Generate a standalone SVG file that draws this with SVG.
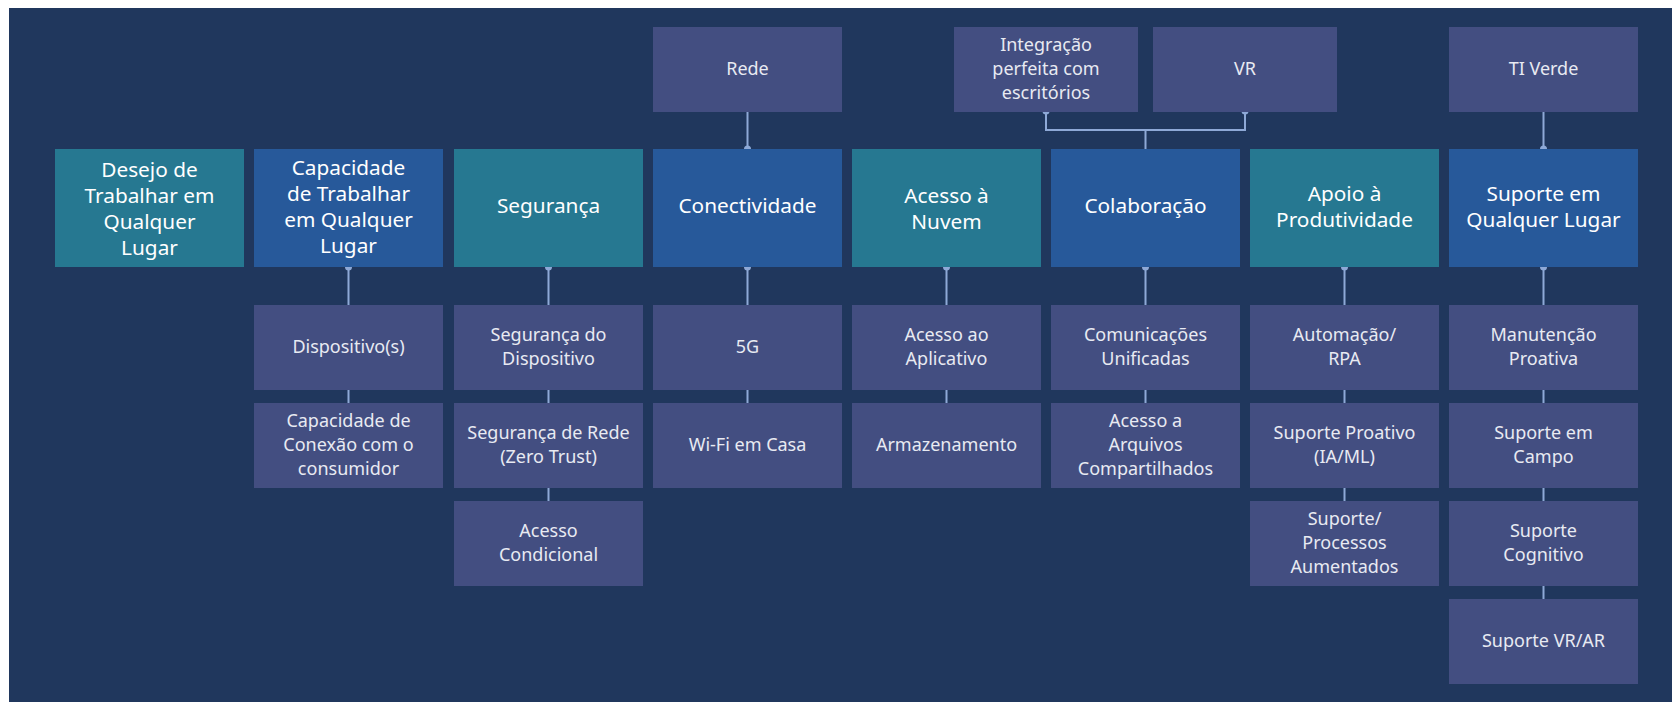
<svg xmlns="http://www.w3.org/2000/svg" width="1672" height="702" viewBox="0 0 1672 702">
<style>
.bg{fill:#20375D}
.teal{fill:#267891}
.blue{fill:#27599A}
.sub{fill:#434E81}
.mt{font-family:"Noto Sans","Liberation Sans",sans-serif;font-size:20.8px;fill:#FFFFFF;text-anchor:middle}
.st{font-family:"Noto Sans","Liberation Sans",sans-serif;font-size:18px;fill:#E8EAF2;text-anchor:middle}
.ln{stroke:#8EA9D7;stroke-width:2;fill:none}
.dot{fill:#8EA9D7}
</style>
<rect width="1672" height="702" fill="#FFFFFF"/>
<rect class="bg" x="9" y="8" width="1663" height="694"/>

<g id="connectors">
<path class="ln" d="M747.5,112V149"/>
<path class="ln" d="M1046,111V130H1245V111M1145.5,130V149"/>
<path class="ln" d="M1543.5,112V149"/>
<path class="ln" d="M348.5,267V305M348.5,390V403"/>
<path class="ln" d="M548.5,267V305M548.5,390V403M548.5,488V501"/>
<path class="ln" d="M747.5,267V305M747.5,390V403"/>
<path class="ln" d="M946.5,267V305M946.5,390V403"/>
<path class="ln" d="M1145.5,267V305M1145.5,390V403"/>
<path class="ln" d="M1344.5,267V305M1344.5,390V403M1344.5,488V501"/>
<path class="ln" d="M1543.5,267V305M1543.5,390V403M1543.5,488V501M1543.5,586V599"/>
<circle class="dot" cx="747.5" cy="149" r="3.5"/>
<circle class="dot" cx="1046" cy="111" r="3.5"/>
<circle class="dot" cx="1245" cy="111" r="3.5"/>
<circle class="dot" cx="1543.5" cy="149" r="3.5"/>
<circle class="dot" cx="348.5" cy="267" r="3.5"/>
<circle class="dot" cx="548.5" cy="267" r="3.5"/>
<circle class="dot" cx="747.5" cy="267" r="3.5"/>
<circle class="dot" cx="946.5" cy="267" r="3.5"/>
<circle class="dot" cx="1145.5" cy="267" r="3.5"/>
<circle class="dot" cx="1344.5" cy="267" r="3.5"/>
<circle class="dot" cx="1543.5" cy="267" r="3.5"/>
</g>

<!-- top row -->
<g id="rede"><rect class="sub" x="653" y="27" width="189" height="85"/><text class="st" x="747.5" y="75">Rede</text></g>
<g id="integracao"><rect class="sub" x="954" y="27" width="184" height="85"/><text class="st" x="1046"><tspan x="1046" y="51">Integração</tspan><tspan x="1046" y="75">perfeita com</tspan><tspan x="1046" y="99">escritórios</tspan></text></g>
<g id="vr"><rect class="sub" x="1153" y="27" width="184" height="85"/><text class="st" x="1245" y="75">VR</text></g>
<g id="ti-verde"><rect class="sub" x="1449" y="27" width="189" height="85"/><text class="st" x="1543.5" y="75">TI Verde</text></g>

<!-- main row -->
<g id="desejo"><rect class="teal" x="55" y="149" width="189" height="118"/><text class="mt"><tspan x="149.5" y="177">Desejo de</tspan><tspan x="149.5" y="203">Trabalhar em</tspan><tspan x="149.5" y="229">Qualquer</tspan><tspan x="149.5" y="255">Lugar</tspan></text></g>
<g id="capacidade"><rect class="blue" x="254" y="149" width="189" height="118"/><text class="mt"><tspan x="348.5" y="175">Capacidade</tspan><tspan x="348.5" y="201">de Trabalhar</tspan><tspan x="348.5" y="227">em Qualquer</tspan><tspan x="348.5" y="253">Lugar</tspan></text></g>
<g id="seguranca"><rect class="teal" x="454" y="149" width="189" height="118"/><text class="mt" x="548.5" y="213">Segurança</text></g>
<g id="conectividade"><rect class="blue" x="653" y="149" width="189" height="118"/><text class="mt" x="747.5" y="213">Conectividade</text></g>
<g id="nuvem"><rect class="teal" x="852" y="149" width="189" height="118"/><text class="mt"><tspan x="946.5" y="203">Acesso à</tspan><tspan x="946.5" y="229">Nuvem</tspan></text></g>
<g id="colaboracao"><rect class="blue" x="1051" y="149" width="189" height="118"/><text class="mt" x="1145.5" y="213">Colaboração</text></g>
<g id="produtividade"><rect class="teal" x="1250" y="149" width="189" height="118"/><text class="mt"><tspan x="1344.5" y="201">Apoio à</tspan><tspan x="1344.5" y="227">Produtividade</tspan></text></g>
<g id="suporte"><rect class="blue" x="1449" y="149" width="189" height="118"/><text class="mt"><tspan x="1543.5" y="201">Suporte em</tspan><tspan x="1543.5" y="227">Qualquer Lugar</tspan></text></g>

<!-- column 2 -->
<g id="dispositivos"><rect class="sub" x="254" y="305" width="189" height="85"/><text class="st" x="348.5" y="353">Dispositivo(s)</text></g>
<g id="conexao"><rect class="sub" x="254" y="403" width="189" height="85"/><text class="st"><tspan x="348.5" y="427">Capacidade de</tspan><tspan x="348.5" y="451">Conexão com o</tspan><tspan x="348.5" y="475">consumidor</tspan></text></g>
<!-- column 3 -->
<g id="seg-dispositivo"><rect class="sub" x="454" y="305" width="189" height="85"/><text class="st"><tspan x="548.5" y="341">Segurança do</tspan><tspan x="548.5" y="365">Dispositivo</tspan></text></g>
<g id="seg-rede"><rect class="sub" x="454" y="403" width="189" height="85"/><text class="st"><tspan x="548.5" y="439">Segurança de Rede</tspan><tspan x="548.5" y="463">(Zero Trust)</tspan></text></g>
<g id="acesso-condicional"><rect class="sub" x="454" y="501" width="189" height="85"/><text class="st"><tspan x="548.5" y="537">Acesso</tspan><tspan x="548.5" y="561">Condicional</tspan></text></g>
<!-- column 4 -->
<g id="g5"><rect class="sub" x="653" y="305" width="189" height="85"/><text class="st" x="747.5" y="353">5G</text></g>
<g id="wifi"><rect class="sub" x="653" y="403" width="189" height="85"/><text class="st" x="747.5" y="451">Wi-Fi em Casa</text></g>
<!-- column 5 -->
<g id="aplicativo"><rect class="sub" x="852" y="305" width="189" height="85"/><text class="st"><tspan x="946.5" y="341">Acesso ao</tspan><tspan x="946.5" y="365">Aplicativo</tspan></text></g>
<g id="armazenamento"><rect class="sub" x="852" y="403" width="189" height="85"/><text class="st" x="946.5" y="451">Armazenamento</text></g>
<!-- column 6 -->
<g id="comunicacoes"><rect class="sub" x="1051" y="305" width="189" height="85"/><text class="st"><tspan x="1145.5" y="341">Comunicações</tspan><tspan x="1145.5" y="365">Unificadas</tspan></text></g>
<g id="arquivos"><rect class="sub" x="1051" y="403" width="189" height="85"/><text class="st"><tspan x="1145.5" y="427">Acesso a</tspan><tspan x="1145.5" y="451">Arquivos</tspan><tspan x="1145.5" y="475">Compartilhados</tspan></text></g>
<!-- column 7 -->
<g id="automacao"><rect class="sub" x="1250" y="305" width="189" height="85"/><text class="st"><tspan x="1344.5" y="341">Automação/</tspan><tspan x="1344.5" y="365">RPA</tspan></text></g>
<g id="proativo"><rect class="sub" x="1250" y="403" width="189" height="85"/><text class="st"><tspan x="1344.5" y="439">Suporte Proativo</tspan><tspan x="1344.5" y="463">(IA/ML)</tspan></text></g>
<g id="aumentados"><rect class="sub" x="1250" y="501" width="189" height="85"/><text class="st"><tspan x="1344.5" y="525">Suporte/</tspan><tspan x="1344.5" y="549">Processos</tspan><tspan x="1344.5" y="573">Aumentados</tspan></text></g>
<!-- column 8 -->
<g id="manutencao"><rect class="sub" x="1449" y="305" width="189" height="85"/><text class="st"><tspan x="1543.5" y="341">Manutenção</tspan><tspan x="1543.5" y="365">Proativa</tspan></text></g>
<g id="campo"><rect class="sub" x="1449" y="403" width="189" height="85"/><text class="st"><tspan x="1543.5" y="439">Suporte em</tspan><tspan x="1543.5" y="463">Campo</tspan></text></g>
<g id="cognitivo"><rect class="sub" x="1449" y="501" width="189" height="85"/><text class="st"><tspan x="1543.5" y="537">Suporte</tspan><tspan x="1543.5" y="561">Cognitivo</tspan></text></g>
<g id="vrar"><rect class="sub" x="1449" y="599" width="189" height="85"/><text class="st" x="1543.5" y="647">Suporte VR/AR</text></g>
</svg>
